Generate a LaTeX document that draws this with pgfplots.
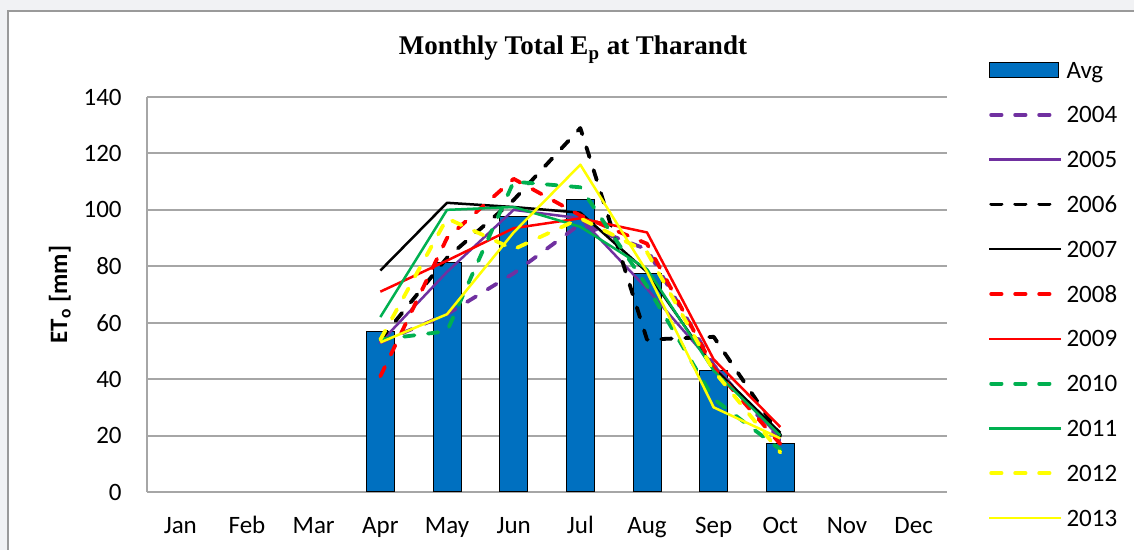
\documentclass[border=0pt]{standalone}
\usepackage{fontspec}
\setmainfont{Carlito}
\newfontfamily\titlefont{Liberation Serif}
\usepackage{pgfplots}
\pgfplotsset{compat=1.18}
\usepackage{pgfplotstable}

\definecolor{barblue}{HTML}{0070C0}
\definecolor{ypurple}{HTML}{7030A0}
\definecolor{yred}{HTML}{FF0000}
\definecolor{ygreen}{HTML}{00B050}
\definecolor{yyellow}{HTML}{FFFF00}
\definecolor{gridgray}{HTML}{A6A6A6}
\definecolor{bggray}{HTML}{F1F2F4}
\definecolor{framegray}{HTML}{9A9A9A}

\pgfplotstableread{
m avg y2004 y2005 y2006 y2007 y2008 y2009 y2010 y2011 y2012 y2013
3 57 53 53 54 78.5 41 71 54 62 54 53
4 81.5 63 78 83 102.5 90 82 57 100 97 63
5 97.5 77.5 100 103.5 101 111 93.5 110 101 86 92
6 103.5 95 97 129 99 98 97 108 94 97 116
7 77.5 86 72 54 78 88 92 73 79 85 78
8 43 45 45 55 44 44 47 33 43 43 30
9 17.3 18 19 20 21 17 23 15 20 14 19
}\data

\pgfplotsset{
  solidyear/.style={color=#1, line width=1.25pt, line join=round, mark=none,
    legend image code/.code={\draw[##1] (0pt,0pt) -- (36pt,0pt);}},
  dashyear/.style={color=#1, line width=1.9pt, line cap=round, line join=round, mark=none,
    dash pattern=on 5.2pt off 6.8pt,
    legend image code/.code={\draw[##1] (0.95pt,0pt) -- (31pt,0pt);}},
  barlegend/.style={legend image code/.code={\draw[##1] (0pt,-3.75pt) rectangle (34.5pt,3.75pt);}},
}

\begin{document}
\begin{tikzpicture}
\useasboundingbox (0pt,0pt) rectangle (567pt,275pt);
\fill[bggray] (0pt,0pt) rectangle (567pt,275pt);
\filldraw[fill=white, draw=framegray, line width=0.6pt] (4pt,-5pt) rectangle (575pt,269.5pt);
\begin{axis}[
  at={(73.5pt,29pt)}, anchor=south west,
  scale only axis, width=400pt, height=197.5pt,
  xmin=-0.5, xmax=11.5, ymin=0, ymax=140,
  xtick={0,...,11},
  xticklabels={Jan,Feb,Mar,Apr,May,Jun,Jul,Aug,Sep,Oct,Nov,Dec},
  ytick={0,20,...,140},
  axis x line*=bottom, axis y line*=left,
  axis line style={gridgray, line width=1pt},
  ymajorgrids, major grid style={gridgray, line width=1pt},
  major tick length=0pt,
  tick label style={font=\fontsize{12.5}{14}\selectfont, inner sep=0pt},
  xticklabel style={anchor=base, yshift=-21pt},
  yticklabel style={anchor=east, xshift=-12.5pt},
  /pgf/number format/assume math mode=true,
  title={Monthly Total E\textsubscript{p} at Tharandt},
  title style={at={(axis description cs:0.5325,1)}, anchor=base, yshift=15pt,
    font=\titlefont\bfseries\fontsize{13.5}{16}\selectfont},
  ylabel={ET\textsubscript{o} [mm]},
  ylabel style={at={(axis description cs:-0.109,0.5)}, anchor=center,
    font=\bfseries\fontsize{12.5}{14}\selectfont},
  legend cell align=left,
  legend style={at={(axis description cs:1.05125,1.125)}, anchor=north west,
    draw=none, fill=none, inner sep=0pt, outer sep=0pt,
    column sep=2pt, row sep=0pt,
    font=\fontsize{12.5}{14}\selectfont,
    nodes={inner sep=0pt, text depth=0pt, minimum height=22.4pt}},
]
\addplot[ybar, bar width=14pt, fill=barblue, draw=black, line width=0.5pt, barlegend]
  table[x=m, y=avg] {\data};
\addlegendentry{Avg}
\addplot[dashyear=ypurple] table[x=m, y=y2004] {\data};
\addlegendentry{2004}
\addplot[solidyear=ypurple] table[x=m, y=y2005] {\data};
\addlegendentry{2005}
\addplot[dashyear=black] table[x=m, y=y2006] {\data};
\addlegendentry{2006}
\addplot[solidyear=black] table[x=m, y=y2007] {\data};
\addlegendentry{2007}
\addplot[dashyear=yred] table[x=m, y=y2008] {\data};
\addlegendentry{2008}
\addplot[solidyear=yred] table[x=m, y=y2009] {\data};
\addlegendentry{2009}
\addplot[dashyear=ygreen] table[x=m, y=y2010] {\data};
\addlegendentry{2010}
\addplot[solidyear=ygreen] table[x=m, y=y2011] {\data};
\addlegendentry{2011}
\addplot[dashyear=yyellow] table[x=m, y=y2012] {\data};
\addlegendentry{2012}
\addplot[solidyear=yyellow] table[x=m, y=y2013] {\data};
\addlegendentry{2013}
\end{axis}
\end{tikzpicture}
\end{document}
